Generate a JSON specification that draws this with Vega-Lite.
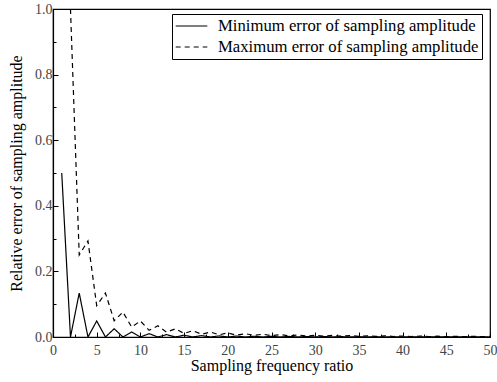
{
  "$schema": "https://vega.github.io/schema/vega-lite/v6.json",
  "autosize": {"type": "none"},
  "padding": {"left": 53, "top": 9, "right": 7, "bottom": 45},
  "width": 437,
  "height": 328,
  "config": {
    "view": {"stroke": "black", "strokeWidth": 1.2},
    "font": "Liberation Serif",
    "axis": {
      "labelFont": "Liberation Serif",
      "titleFont": "Liberation Serif",
      "labelFontSize": 14,
      "titleFontSize": 16,
      "titleFontWeight": "normal",
      "labelColor": "#444",
      "titleColor": "black",
      "domainColor": "black",
      "tickColor": "black",
      "domainWidth": 1.2,
      "grid": false
    }
  },
  "data": {"values": [
    {"n":1,"s":"Minimum error of sampling amplitude","v":0.5},
    {"n":2,"s":"Minimum error of sampling amplitude","v":0},
    {"n":3,"s":"Minimum error of sampling amplitude","v":0.134},
    {"n":4,"s":"Minimum error of sampling amplitude","v":0},
    {"n":5,"s":"Minimum error of sampling amplitude","v":0.0489},
    {"n":6,"s":"Minimum error of sampling amplitude","v":0},
    {"n":7,"s":"Minimum error of sampling amplitude","v":0.0251},
    {"n":8,"s":"Minimum error of sampling amplitude","v":0},
    {"n":9,"s":"Minimum error of sampling amplitude","v":0.0152},
    {"n":10,"s":"Minimum error of sampling amplitude","v":0},
    {"n":11,"s":"Minimum error of sampling amplitude","v":0.0102},
    {"n":12,"s":"Minimum error of sampling amplitude","v":0},
    {"n":13,"s":"Minimum error of sampling amplitude","v":0.0073},
    {"n":14,"s":"Minimum error of sampling amplitude","v":0},
    {"n":15,"s":"Minimum error of sampling amplitude","v":0.0055},
    {"n":16,"s":"Minimum error of sampling amplitude","v":0},
    {"n":17,"s":"Minimum error of sampling amplitude","v":0.0043},
    {"n":18,"s":"Minimum error of sampling amplitude","v":0},
    {"n":19,"s":"Minimum error of sampling amplitude","v":0.0034},
    {"n":20,"s":"Minimum error of sampling amplitude","v":0},
    {"n":21,"s":"Minimum error of sampling amplitude","v":0.0028},
    {"n":22,"s":"Minimum error of sampling amplitude","v":0},
    {"n":23,"s":"Minimum error of sampling amplitude","v":0.0023},
    {"n":24,"s":"Minimum error of sampling amplitude","v":0},
    {"n":25,"s":"Minimum error of sampling amplitude","v":0.002},
    {"n":26,"s":"Minimum error of sampling amplitude","v":0},
    {"n":27,"s":"Minimum error of sampling amplitude","v":0.0017},
    {"n":28,"s":"Minimum error of sampling amplitude","v":0},
    {"n":29,"s":"Minimum error of sampling amplitude","v":0.0015},
    {"n":30,"s":"Minimum error of sampling amplitude","v":0},
    {"n":31,"s":"Minimum error of sampling amplitude","v":0.0013},
    {"n":32,"s":"Minimum error of sampling amplitude","v":0},
    {"n":33,"s":"Minimum error of sampling amplitude","v":0.0011},
    {"n":34,"s":"Minimum error of sampling amplitude","v":0},
    {"n":35,"s":"Minimum error of sampling amplitude","v":0.001},
    {"n":36,"s":"Minimum error of sampling amplitude","v":0},
    {"n":37,"s":"Minimum error of sampling amplitude","v":0.0009},
    {"n":38,"s":"Minimum error of sampling amplitude","v":0},
    {"n":39,"s":"Minimum error of sampling amplitude","v":0.0008},
    {"n":40,"s":"Minimum error of sampling amplitude","v":0},
    {"n":41,"s":"Minimum error of sampling amplitude","v":0.0007},
    {"n":42,"s":"Minimum error of sampling amplitude","v":0},
    {"n":43,"s":"Minimum error of sampling amplitude","v":0.0007},
    {"n":44,"s":"Minimum error of sampling amplitude","v":0},
    {"n":45,"s":"Minimum error of sampling amplitude","v":0.0006},
    {"n":46,"s":"Minimum error of sampling amplitude","v":0},
    {"n":47,"s":"Minimum error of sampling amplitude","v":0.0006},
    {"n":48,"s":"Minimum error of sampling amplitude","v":0},
    {"n":49,"s":"Minimum error of sampling amplitude","v":0.0005},
    {"n":50,"s":"Minimum error of sampling amplitude","v":0},
    {"n":2,"s":"Maximum error of sampling amplitude","v":1.0},
    {"n":3,"s":"Maximum error of sampling amplitude","v":0.25},
    {"n":4,"s":"Maximum error of sampling amplitude","v":0.2929},
    {"n":5,"s":"Maximum error of sampling amplitude","v":0.0955},
    {"n":6,"s":"Maximum error of sampling amplitude","v":0.134},
    {"n":7,"s":"Maximum error of sampling amplitude","v":0.0495},
    {"n":8,"s":"Maximum error of sampling amplitude","v":0.0761},
    {"n":9,"s":"Maximum error of sampling amplitude","v":0.0302},
    {"n":10,"s":"Maximum error of sampling amplitude","v":0.0489},
    {"n":11,"s":"Maximum error of sampling amplitude","v":0.0203},
    {"n":12,"s":"Maximum error of sampling amplitude","v":0.0341},
    {"n":13,"s":"Maximum error of sampling amplitude","v":0.0145},
    {"n":14,"s":"Maximum error of sampling amplitude","v":0.0251},
    {"n":15,"s":"Maximum error of sampling amplitude","v":0.0109},
    {"n":16,"s":"Maximum error of sampling amplitude","v":0.0192},
    {"n":17,"s":"Maximum error of sampling amplitude","v":0.0085},
    {"n":18,"s":"Maximum error of sampling amplitude","v":0.0152},
    {"n":19,"s":"Maximum error of sampling amplitude","v":0.0068},
    {"n":20,"s":"Maximum error of sampling amplitude","v":0.0123},
    {"n":21,"s":"Maximum error of sampling amplitude","v":0.0056},
    {"n":22,"s":"Maximum error of sampling amplitude","v":0.0102},
    {"n":23,"s":"Maximum error of sampling amplitude","v":0.0047},
    {"n":24,"s":"Maximum error of sampling amplitude","v":0.0086},
    {"n":25,"s":"Maximum error of sampling amplitude","v":0.004},
    {"n":26,"s":"Maximum error of sampling amplitude","v":0.0073},
    {"n":27,"s":"Maximum error of sampling amplitude","v":0.0034},
    {"n":28,"s":"Maximum error of sampling amplitude","v":0.0063},
    {"n":29,"s":"Maximum error of sampling amplitude","v":0.0029},
    {"n":30,"s":"Maximum error of sampling amplitude","v":0.0055},
    {"n":31,"s":"Maximum error of sampling amplitude","v":0.0026},
    {"n":32,"s":"Maximum error of sampling amplitude","v":0.0048},
    {"n":33,"s":"Maximum error of sampling amplitude","v":0.0023},
    {"n":34,"s":"Maximum error of sampling amplitude","v":0.0043},
    {"n":35,"s":"Maximum error of sampling amplitude","v":0.002},
    {"n":36,"s":"Maximum error of sampling amplitude","v":0.0038},
    {"n":37,"s":"Maximum error of sampling amplitude","v":0.0018},
    {"n":38,"s":"Maximum error of sampling amplitude","v":0.0034},
    {"n":39,"s":"Maximum error of sampling amplitude","v":0.0016},
    {"n":40,"s":"Maximum error of sampling amplitude","v":0.0031},
    {"n":41,"s":"Maximum error of sampling amplitude","v":0.0015},
    {"n":42,"s":"Maximum error of sampling amplitude","v":0.0028},
    {"n":43,"s":"Maximum error of sampling amplitude","v":0.0013},
    {"n":44,"s":"Maximum error of sampling amplitude","v":0.0025},
    {"n":45,"s":"Maximum error of sampling amplitude","v":0.0012},
    {"n":46,"s":"Maximum error of sampling amplitude","v":0.0023},
    {"n":47,"s":"Maximum error of sampling amplitude","v":0.0011},
    {"n":48,"s":"Maximum error of sampling amplitude","v":0.0021},
    {"n":49,"s":"Maximum error of sampling amplitude","v":0.001},
    {"n":50,"s":"Maximum error of sampling amplitude","v":0.002}
  ]},
  "mark": {"type": "line", "color": "black", "strokeWidth": 1.2, "clip": true},
  "encoding": {
    "x": {
      "field": "n", "type": "quantitative",
      "scale": {"domain": [0, 50], "nice": false, "zero": false},
      "axis": {
        "title": "Sampling frequency ratio",
        "values": [0,2.5,5,7.5,10,12.5,15,17.5,20,22.5,25,27.5,30,32.5,35,37.5,40,42.5,45,47.5,50],
        "labelExpr": "datum.value % 5 === 0 ? datum.value : ''",
        "labelFont": "Liberation Serif",
        "tickSize": {"condition": {"test": "datum.value % 5 === 0", "value": -5}, "value": -3},
        "labelPadding": 11,
        "titlePadding": 0,
        "labelFlush": false,
        "encode": {"labels": {"update": {"font": {"value": "Liberation Serif"}}}}
      }
    },
    "y": {
      "field": "v", "type": "quantitative",
      "scale": {"domain": [0, 1], "nice": false},
      "axis": {
        "title": "Relative error of sampling amplitude",
        "values": [0,0.1,0.2,0.3,0.4,0.5,0.6,0.7,0.8,0.9,1.0],
        "labelExpr": "(round(datum.value*10) % 2 === 0) ? format(datum.value, '.1f') : ''",
        "labelFont": "Liberation Serif",
        "tickSize": {"condition": {"test": "round(datum.value*10) % 2 === 0", "value": -5}, "value": -3},
        "labelPadding": 6,
        "titlePadding": 10,
        "labelFlush": false,
        "encode": {"labels": {"update": {"font": {"value": "Liberation Serif"}}}}
      }
    },
    "strokeDash": {
      "field": "s", "type": "nominal",
      "scale": {
        "domain": ["Minimum error of sampling amplitude", "Maximum error of sampling amplitude"],
        "range": [[1, 0], [5, 4]]
      },
      "legend": {
        "title": null,
        "orient": "none",
        "legendX": 119,
        "legendY": 5,
        "symbolType": "stroke",
        "symbolSize": 1000,
        "symbolStrokeColor": "black",
        "symbolStrokeWidth": 1.2,
        "labelFont": "Liberation Serif",
        "labelFontSize": 16.7,
        "labelColor": "black",
        "labelLimit": 400,
        "labelOffset": 10,
        "clipHeight": 18,
        "rowPadding": 3,
        "strokeColor": "black",
        "padding": 3
      }
    }
  }
}
